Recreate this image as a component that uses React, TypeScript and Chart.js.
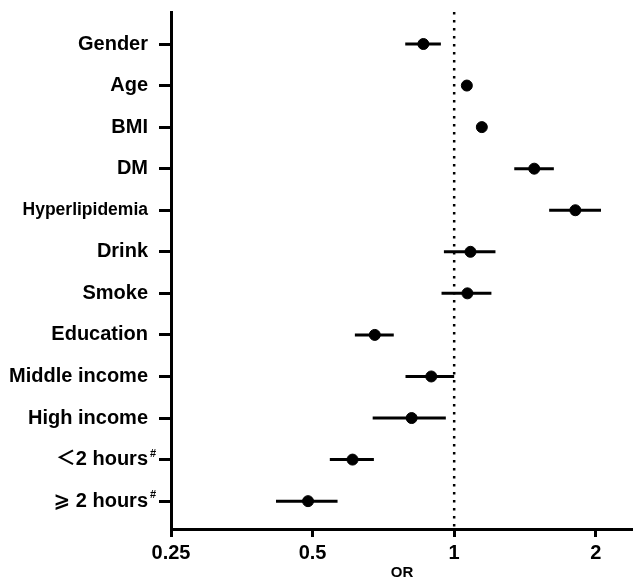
import React, { useEffect, useRef } from "react";
import { Chart, registerables } from "chart.js";

Chart.register(...registerables);

const categories = [
  "Gender",
  "Age",
  "BMI",
  "DM",
  "Hyperlipidemia",
  "Drink",
  "Smoke",
  "Education",
  "Middle income",
  "High income",
  "＜2 hours",
  "⩾ 2 hours",
];
const superscripts = ["", "", "", "", "", "", "", "", "", "", "#", "#"];
const orValues = [0.86, 1.064, 1.145, 1.48, 1.81, 1.083, 1.067, 0.678, 0.894, 0.812, 0.608, 0.489];
const ciLower = [0.787, 1.05, 1.13, 1.342, 1.592, 0.951, 0.94, 0.615, 0.788, 0.671, 0.544, 0.418];
const ciUpper = [0.937, 1.078, 1.16, 1.629, 2.052, 1.224, 1.2, 0.744, 1.0, 0.96, 0.675, 0.565];
const xTicks = [0.25, 0.5, 1, 2];
const xMin = 0.25;
const xMax = 2.4;
const refValue = 1;
const xTitle = "OR";

const FONT = "'Liberation Sans', Arial, 'Noto Sans CJK SC', 'DejaVu Sans', sans-serif";

export default function App() {
  const ref = useRef<HTMLCanvasElement | null>(null);

  useEffect(() => {
    document.body.style.margin = "0";
    document.body.style.overflow = "hidden";
    const canvas = ref.current;
    if (!canvas) return;

    const yMin = 0.23;
    const yMax = categories.length + 0.67;

    const ciDatasets = categories.map((_, i) => ({
      type: "line" as const,
      data: [
        { x: ciLower[i], y: i + 1 },
        { x: ciUpper[i], y: i + 1 },
      ],
      borderColor: "#000",
      borderWidth: 3,
      pointRadius: 0,
      showLine: true,
      order: 2,
    }));

    const superPlugin = {
      id: "superscripts",
      afterDraw(chart: any) {
        const ctx = chart.ctx;
        const y = chart.scales.y;
        ctx.save();
        ctx.fillStyle = "#000";
        ctx.font = `bold 11px ${FONT}`;
        ctx.textAlign = "left";
        ctx.textBaseline = "middle";
        superscripts.forEach((s, i) => {
          if (!s) return;
          const py = y.getPixelForValue(i + 1);
          ctx.fillText(s, 150, py - 6);
        });
        ctx.restore();
      },
    };

    const chart = new Chart(canvas, {
      type: "scatter",
      data: {
        datasets: [
          {
            type: "line" as const,
            data: [
              { x: refValue, y: yMin },
              { x: refValue, y: yMax },
            ],
            borderColor: "#000",
            borderWidth: 2.5,
            borderDash: [2.5, 5.5],
            borderCapStyle: "butt",
            pointRadius: 0,
            showLine: true,
            order: 3,
          },
          ...ciDatasets,
          {
            type: "scatter" as const,
            data: orValues.map((v, i) => ({ x: v, y: i + 1 })),
            backgroundColor: "#000",
            borderColor: "#000",
            pointRadius: 5.5,
            pointHoverRadius: 5.5,
            order: 1,
          },
        ] as any,
      },
      options: {
        animation: false,
        responsive: false,
        maintainAspectRatio: false,
        events: [],
        layout: { autoPadding: false, padding: { top: 12, right: 0, left: 0, bottom: 0 } },
        plugins: {
          legend: { display: false },
          tooltip: { enabled: false },
        },
        scales: {
          x: {
            type: "logarithmic",
            min: xMin,
            max: xMax,
            afterBuildTicks: (axis: any) => {
              axis.ticks = xTicks.map((v) => ({ value: v }));
            },
            afterFit: (axis: any) => {
              axis.height = 51;
              axis.paddingLeft = 0;
              axis.paddingRight = 0;
            },
            ticks: {
              color: "#000",
              font: { family: FONT, size: 20, weight: "bold" },
              padding: 4,
              maxRotation: 0,
              autoSkip: false,
              callback: (v: any) => String(v),
            },
            grid: {
              drawOnChartArea: false,
              drawTicks: true,
              tickLength: 8,
              lineWidth: 3,
              color: "#000",
            },
            border: { display: true, width: 3, color: "#000" },
            title: {
              display: true,
              text: xTitle,
              color: "#000",
              font: { family: FONT, size: 15, weight: "bold" },
              padding: { top: 0, bottom: -2 },
            },
          },
          y: {
            type: "linear",
            reverse: true,
            min: yMin,
            max: yMax,
            afterBuildTicks: (axis: any) => {
              axis.ticks = categories.map((_, i) => ({ value: i + 1 }));
            },
            afterFit: (axis: any) => {
              axis.width = 171;
              axis.paddingTop = 0;
              axis.paddingBottom = 0;
            },
            ticks: {
              color: "#000",
              padding: 11,
              autoSkip: false,
              font: (ctx: any) => ({
                family: FONT,
                size: ctx.index === 4 ? 17.5 : 20,
                weight: "bold",
              }),
              callback: (v: any) => categories[Math.round(v) - 1] ?? "",
            },
            grid: {
              drawOnChartArea: false,
              drawTicks: true,
              tickLength: 12,
              lineWidth: 3,
              color: "#000",
            },
            border: { display: true, width: 3, color: "#000" },
          },
        },
      },
      plugins: [superPlugin],
    } as any);

    return () => chart.destroy();
  }, []);

  return (
    <div style={{ width: 633, height: 580, background: "#fff" }}>
      <canvas ref={ref} width={633} height={580} style={{ display: "block" }} />
    </div>
  );
}
